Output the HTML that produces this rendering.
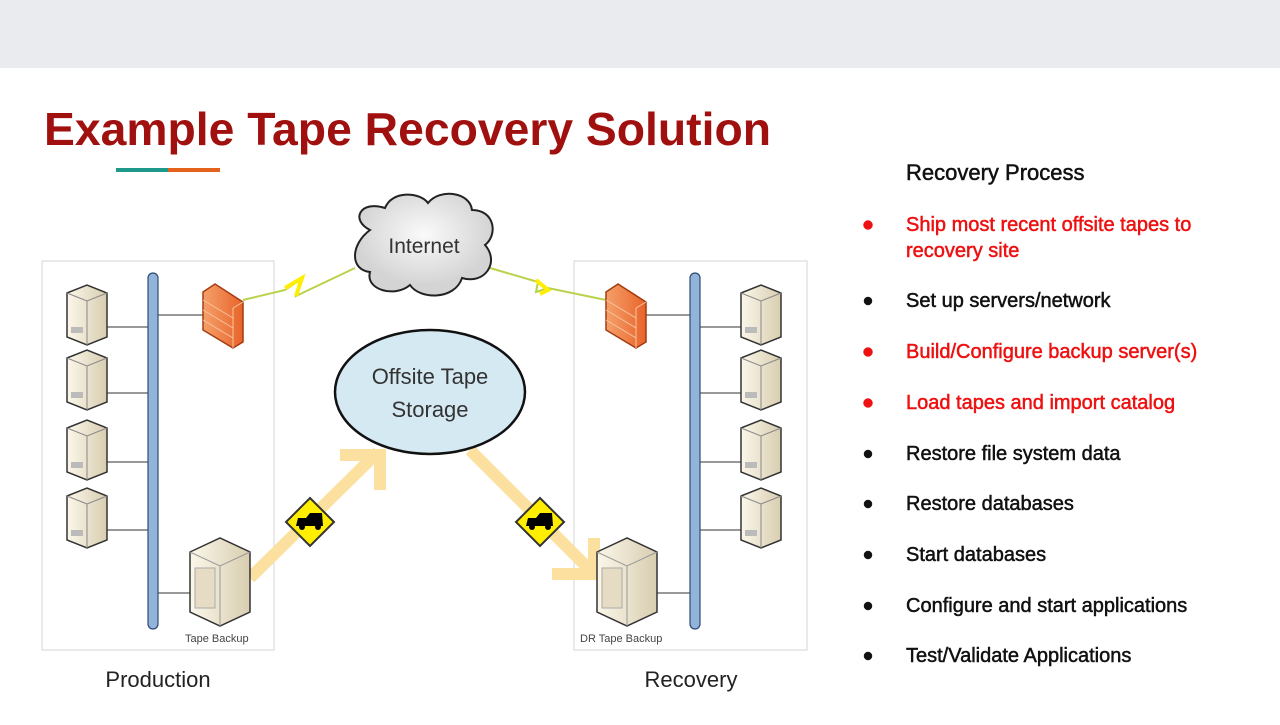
<!DOCTYPE html>
<html><head><meta charset="utf-8"><style>
body{margin:0;width:1280px;height:720px;overflow:hidden;background:#fff;font-family:"Liberation Sans",sans-serif}
</style></head><body>
<svg width="1280" height="720" xmlns="http://www.w3.org/2000/svg" font-family="Liberation Sans, sans-serif">
<defs>
<linearGradient id="srv" x1="0" x2="1"><stop offset="0" stop-color="#fbf7ea"/><stop offset="1" stop-color="#d8cdb0"/></linearGradient>
<linearGradient id="fw" x1="0" x2="1"><stop offset="0" stop-color="#f5a06a"/><stop offset="1" stop-color="#e8642a"/></linearGradient>
<radialGradient id="cl" cx="0.5" cy="0.4"><stop offset="0" stop-color="#fafafa"/><stop offset="1" stop-color="#d4d4d4"/></radialGradient>
<g id="server">
<path d="M0,8 L20,0 L40,8 L40,52 L20,60 L0,52 Z" fill="url(#srv)" stroke="#333" stroke-width="1.5"/>
<path d="M0,8 L20,16 L40,8 M20,16 L20,60" fill="none" stroke="#888" stroke-width="1"/>
<rect x="4" y="42" width="12" height="6" fill="#bbb"/>
</g>
<g id="bigserver">
<path d="M0,14 L30,0 L60,14 L60,74 L30,88 L0,74 Z" fill="url(#srv)" stroke="#333" stroke-width="1.5"/>
<path d="M0,14 L30,28 L60,14 M30,28 L30,88" fill="none" stroke="#999"/>
<rect x="5" y="30" width="20" height="40" fill="#e6dcc4" stroke="#aaa"/>
</g>
<g id="firewall">
<path d="M0,8 L12,0 L40,18 L40,58 L30,64 L0,46 Z" fill="url(#fw)" stroke="#a33c10" stroke-width="1.5"/>
<path d="M0,16 L30,34 M0,26 L30,44 M0,36 L30,54 M30,24 L30,64 M30,24 L40,18" stroke="#f7c3a0" stroke-width="1" fill="none"/>
</g>
<g id="sign">
<path d="M0,-24 L24,0 L0,24 L-24,0 Z" fill="#ffee00" stroke="#333" stroke-width="2"/>
<path d="M-14,4 L-12,-4 L-4,-4 L0,-9 L12,-9 L13,4 Z" fill="#000"/>
<circle cx="-8" cy="5" r="3" fill="#000"/><circle cx="8" cy="5" r="3" fill="#000"/>
</g>
</defs>
<rect width="1280" height="68" fill="#e9ebee"/>
<text x="44" y="145" font-size="46" font-weight="bold" fill="#a0100f" textLength="727" lengthAdjust="spacingAndGlyphs">Example Tape Recovery Solution</text>
<rect x="116" y="168" width="52" height="4" fill="#1f9a8a"/>
<rect x="168" y="168" width="52" height="4" fill="#e4621c"/>

<rect x="42" y="261" width="232" height="389" fill="none" stroke="#d6d6d6"/>
<rect x="574" y="261" width="233" height="389" fill="none" stroke="#d6d6d6"/>

<path d="M243,300 L285,290 L300,280 L296,296 L355,268" fill="none" stroke="#b8d24a" stroke-width="2"/>
<path d="M285,288 L302,278 L296,296" fill="none" stroke="#ffee00" stroke-width="4"/>
<path d="M490,268 L538,282 L536,292 L548,288 L606,300" fill="none" stroke="#b8d24a" stroke-width="2"/>
<path d="M536,280 L548,290 L540,294" fill="none" stroke="#ffee00" stroke-width="4"/>

<g stroke="#777" stroke-width="1.5">
<line x1="107" y1="327" x2="150" y2="327"/><line x1="107" y1="393" x2="150" y2="393"/>
<line x1="107" y1="462" x2="150" y2="462"/><line x1="107" y1="530" x2="150" y2="530"/>
<line x1="158" y1="315" x2="203" y2="315"/><line x1="158" y1="593" x2="190" y2="593"/>
<line x1="698" y1="315" x2="646" y2="315"/><line x1="698" y1="327" x2="741" y2="327"/>
<line x1="698" y1="393" x2="741" y2="393"/><line x1="698" y1="462" x2="741" y2="462"/>
<line x1="698" y1="530" x2="741" y2="530"/><line x1="655" y1="593" x2="690" y2="593"/>
</g>
<rect x="148" y="273" width="10" height="356" rx="5" fill="#92b3da" stroke="#2e4a70" stroke-width="1.2"/>
<rect x="690" y="273" width="10" height="356" rx="5" fill="#92b3da" stroke="#2e4a70" stroke-width="1.2"/>
<use href="#server" x="67" y="285"/><use href="#server" x="67" y="350"/>
<use href="#server" x="67" y="420"/><use href="#server" x="67" y="488"/>
<use href="#server" x="741" y="285"/><use href="#server" x="741" y="350"/>
<use href="#server" x="741" y="420"/><use href="#server" x="741" y="488"/>
<use href="#firewall" x="203" y="284"/><use href="#firewall" x="606" y="284"/>

<g stroke="#fbe0a0" stroke-width="12" fill="none">
<line x1="250" y1="578" x2="378" y2="452"/>
<path d="M340,455 L380,455 L380,490" stroke-linejoin="miter"/>
<line x1="470" y1="450" x2="592" y2="572"/>
<path d="M552,574 L594,574 L594,538"/>
</g>
<use href="#bigserver" x="190" y="538"/><use href="#bigserver" x="597" y="538"/>
<use href="#sign" x="310" y="522"/><use href="#sign" x="540" y="522"/>
<text x="185" y="642" font-size="11" fill="#444">Tape Backup</text>
<text x="580" y="642" font-size="11" fill="#444">DR Tape Backup</text>

<path d="M370,230 C350,220 360,200 385,208 C392,190 420,192 428,203 C440,188 470,192 472,210 C495,210 498,235 485,245 C500,262 485,285 462,278 C455,300 420,300 410,285 C395,298 365,290 370,272 C350,270 350,245 370,230 Z" fill="url(#cl)" stroke="#222" stroke-width="2"/>
<text x="424" y="253" font-size="21" text-anchor="middle" fill="#333">Internet</text>

<ellipse cx="430" cy="392" rx="95" ry="62" fill="#d5e9f2" stroke="#111" stroke-width="2.5"/>
<text x="430" y="384" font-size="22" text-anchor="middle" fill="#333">Offsite Tape</text>
<text x="430" y="417" font-size="22" text-anchor="middle" fill="#333">Storage</text>

<text x="158" y="687" font-size="22" text-anchor="middle" fill="#222">Production</text>
<text x="691" y="687" font-size="22" text-anchor="middle" fill="#222">Recovery</text>

<g font-size="20" stroke-width="0.5">
<text x="906" y="180" font-size="22" fill="#111" stroke="#111" stroke-width="0.5">Recovery Process</text>
<g fill="#ee1111" stroke="#ee1111">
<circle cx="868" cy="225" r="4.5"/><text x="906" y="231">Ship most recent offsite tapes to</text><text x="906" y="257">recovery site</text>
<circle cx="868" cy="352" r="4.5"/><text x="906" y="358">Build/Configure backup server(s)</text>
<circle cx="868" cy="403" r="4.5"/><text x="906" y="409">Load tapes and import catalog</text>
</g>
<g fill="#111" stroke="#111">
<circle cx="868" cy="301" r="4"/><text x="906" y="307">Set up servers/network</text>
<circle cx="868" cy="454" r="4"/><text x="906" y="460">Restore file system data</text>
<circle cx="868" cy="504" r="4"/><text x="906" y="510">Restore databases</text>
<circle cx="868" cy="555" r="4"/><text x="906" y="561">Start databases</text>
<circle cx="868" cy="606" r="4"/><text x="906" y="612">Configure and start applications</text>
<circle cx="868" cy="656" r="4"/><text x="906" y="662">Test/Validate Applications</text>
</g>
</g>
</svg>
</body></html>
